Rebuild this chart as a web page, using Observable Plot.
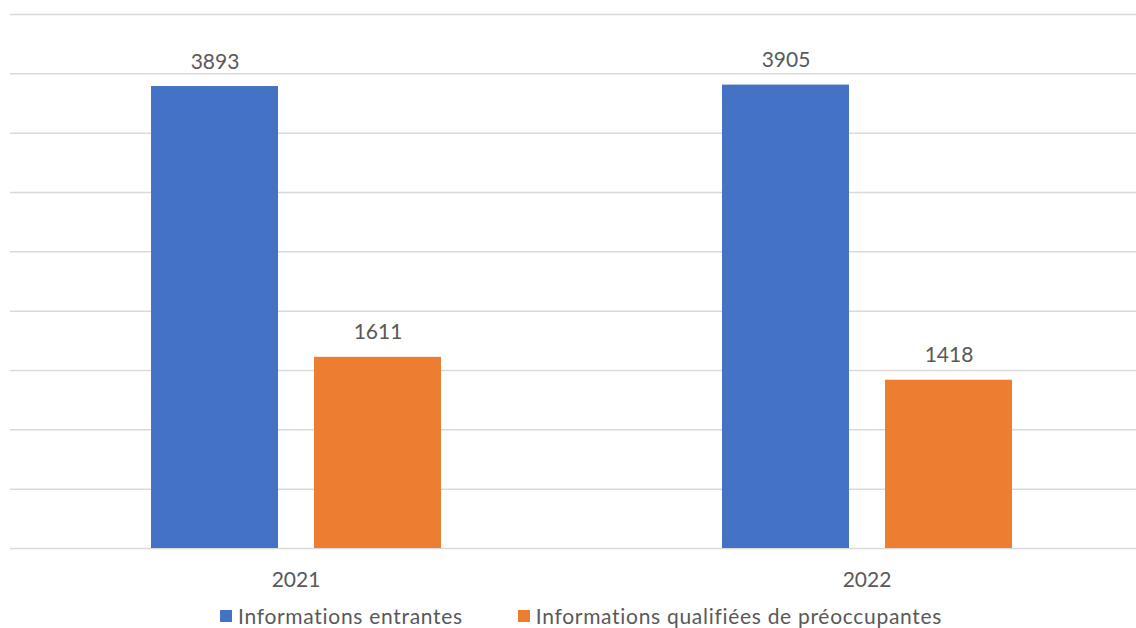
<!DOCTYPE html>
<html><head><meta charset="utf-8">
<script src="https://cdn.jsdelivr.net/npm/d3@7"></script>
<script src="https://cdn.jsdelivr.net/npm/@observablehq/plot@0.6"></script>
<style>
html,body{margin:0;padding:0;background:#fff;overflow:hidden;width:1136px;height:628px;}
#chart{position:absolute;left:0;top:0;width:1152px;}
#chart svg{max-width:none !important;}
#legend{position:absolute;left:220px;top:603px;font-family:Lato,"Open Sans",sans-serif;font-size:21px;letter-spacing:0.7px;color:#595959;white-space:nowrap;display:flex;align-items:center;}
.item{display:flex;align-items:center;margin-right:55px;}
.sw{width:12px;height:12px;margin-right:6px;display:inline-block;}
</style></head>
<body>
<div id="chart"></div>
<div id="legend"></div>
<script>
const years = ["2021", "2022"];
const seriesNames = ["Informations entrantes", "Informations qualifiées de préoccupantes"];
const entrantes = [3893, 3905];
const preoccupantes = [1611, 1418];
const colors = ["#4472C4", "#ED7D31"];
const yTicks = [0, 500, 1000, 1500, 2000, 2500, 3000, 3500, 4000, 4500];

const data = [];
years.forEach((y, i) => {
  data.push({year: y, series: seriesNames[0], value: entrantes[i]});
  data.push({year: y, series: seriesNames[1], value: preoccupantes[i]});
});

const font = "Lato, 'Open Sans', sans-serif";
const chart = Plot.plot({
  width: 1152,
  height: 600,
  marginLeft: 10,
  marginRight: 0,
  marginTop: 14,
  marginBottom: 52,
  style: {fontFamily: font, fontSize: "21px", color: "#595959", background: "#fff", maxWidth: "none"},
  fx: {domain: years, paddingInner: 0, paddingOuter: 0, label: null, axis: null},
  x: {domain: seriesNames, axis: null, paddingInner: 0.221, paddingOuter: 0.862},
  y: {domain: [0, 4500], axis: null},
  color: {domain: seriesNames, range: colors},
  marks: [
    Plot.gridY(yTicks, {stroke: "#d9d9d9", strokeOpacity: 1, strokeWidth: 1.5}),
    Plot.barY(data, {fx: "year", x: "series", y: "value", fill: "series"}),
    Plot.text(data, {fx: "year", x: "series", y: "value", text: d => String(d.value), dy: -18, lineAnchor: "bottom", fill: "#595959", fontSize: 21}),
    Plot.axisFx({domain: years, anchor: "bottom", tickSize: 0, tickPadding: 24, label: null, fill: "#595959", fontSize: 21})
  ]
});
document.getElementById("chart").appendChild(chart);

const legend = document.getElementById("legend");
seriesNames.forEach((s, i) => {
  const it = document.createElement("div");
  it.className = "item";
  it.innerHTML = `<span class="sw" style="background:${colors[i]}"></span><span>${s}</span>`;
  legend.appendChild(it);
});
</script>
</body></html>
